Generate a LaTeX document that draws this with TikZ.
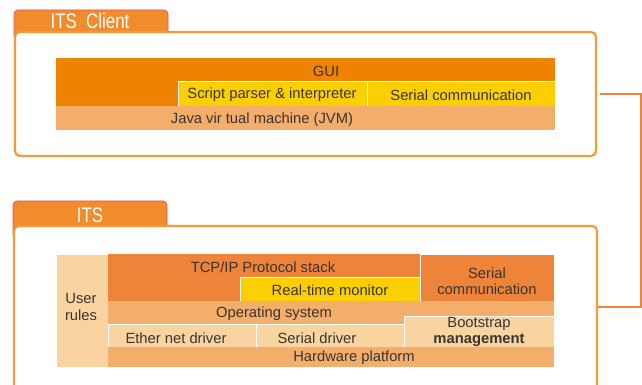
\documentclass[tikz,border=0pt]{standalone}
\usepackage{fontspec}
\setmainfont{Liberation Sans}
\newfontfamily\tabfont[FakeStretch=0.8]{Liberation Sans}
\usetikzlibrary{fit}
\definecolor{frameor}{HTML}{F39A3C}
\definecolor{tabor}{HTML}{F08C2C}
\definecolor{tabedge}{HTML}{E8506A}
\definecolor{guior}{HTML}{EF8200}
\definecolor{stackor}{HTML}{EE843A}
\definecolor{yel}{HTML}{FCCF00}
\definecolor{midor}{HTML}{F4AE6B}
\definecolor{paleor}{HTML}{FAD4A0}
\definecolor{ink}{HTML}{3A3430}

\begin{document}
\begin{tikzpicture}[x=0.025cm,y=-0.025cm,
  font=\fontsize{10.5}{11.5}\selectfont,text=ink,
  frame/.style={draw=frameor,line width=1.6pt,rounded corners=3.5pt,fill=white,inner sep=0pt},
  tab/.style={draw=tabedge,line width=0.5pt,fill=tabor,rounded corners=2.8pt,inner sep=0pt},
  tabtxt/.style={text=white,font=\tabfont\fontsize{15}{15}\selectfont},
  layer/.style={inner sep=0pt,outer sep=0pt},
  cell/.style={layer,draw=white,line width=0.5pt},
  txt/.style={inner sep=0pt,align=center},
  link/.style={draw=stackor,line width=1.1pt}]
\useasboundingbox (0,0) rectangle (642,385);
\clip (0,0) rectangle (642,385);

% client side
\node[tab,fit={(14,10) (168,40)}] (clienttab) {};
\node[tabtxt] (clientname) at (90,21) {ITS\ \ Client};
\node[frame,fit={(15,32) (596,156)}] (client) {};

\node[layer,fill=guior,fit={(56,58) (555,81)}] (gui) {};
\node[layer,fill=guior,fit={(56,81) (178,106)}] (guileft) {};
\node[cell,fill=yel,fit={(178,81) (367,106)}] (parser) {};
\node[cell,fill=yel,fit={(367,81) (555,106)}] (serialc) {};
\node[layer,fill=midor,fit={(56,106) (555,130)}] (jvm) {};
\node[txt] (guitxt) at (326,71) {GUI};
\node[txt] (parsertxt) at (272,95) {Script parser \& interpreter};
\node[txt] (serialctxt) at (461,95) {Serial communication};
\node[txt] (jvmtxt) at (262,120) {Java vir tual machine (JVM)};

% ITS side
\node[tab,fit={(13,201) (167,240)}] (itstab) {};
\node[tabtxt] (itsname) at (90,215) {ITS};
\node[frame,fit={(14,226) (597,430)}] (its) {};

\node[cell,fill=paleor,fit={(56,254) (108,367)}] (rules) {};
\node[layer,fill=stackor,fit={(108,254) (420,277)}] (tcp) {};
\node[layer,fill=stackor,fit={(108,277) (240,301)}] (tcpleft) {};
\node[cell,fill=yel,fit={(240,277) (420,301)}] (rtm) {};
\node[cell,fill=stackor,fit={(420,254) (554,301)}] (serialits) {};
\node[layer,fill=midor,fit={(108,301) (554,324)}] (os) {};
\node[cell,fill=paleor,fit={(108,324) (256,347)}] (eth) {};
\node[cell,fill=paleor,fit={(256,324) (404,347)}] (serdrv) {};
\node[cell,fill=paleor,fit={(404,316) (554,347)}] (boot) {};
\node[layer,fill=midor,fit={(108,347) (554,367)}] (hw) {};

\node[txt] (rulestxt) at (81,307) {User\\rules};
\node[txt] (tcptxt) at (263,267) {TCP/IP Protocol stack};
\node[txt] (rtmtxt) at (330,290) {Real-time monitor};
\node[txt] (serialitstxt) at (487,281) {Serial\\communication};
\node[txt] (ostxt) at (274,314) {Operating system};
\node[txt] (ethtxt) at (176,338) {Ether net driver};
\node[txt] (serdrvtxt) at (317,338) {Serial driver};
\node[txt] (boottxt) at (479,332) {Bootstrap\\\textbf{management}};
\node[txt] (hwtxt) at (354,358) {Hardware platform};

% link between the two boxes
\coordinate (turn) at (641,307);
\draw[link,shorten <=2pt] (client.east) -| (turn) -- (turn -| its.east);
\end{tikzpicture}
\end{document}
